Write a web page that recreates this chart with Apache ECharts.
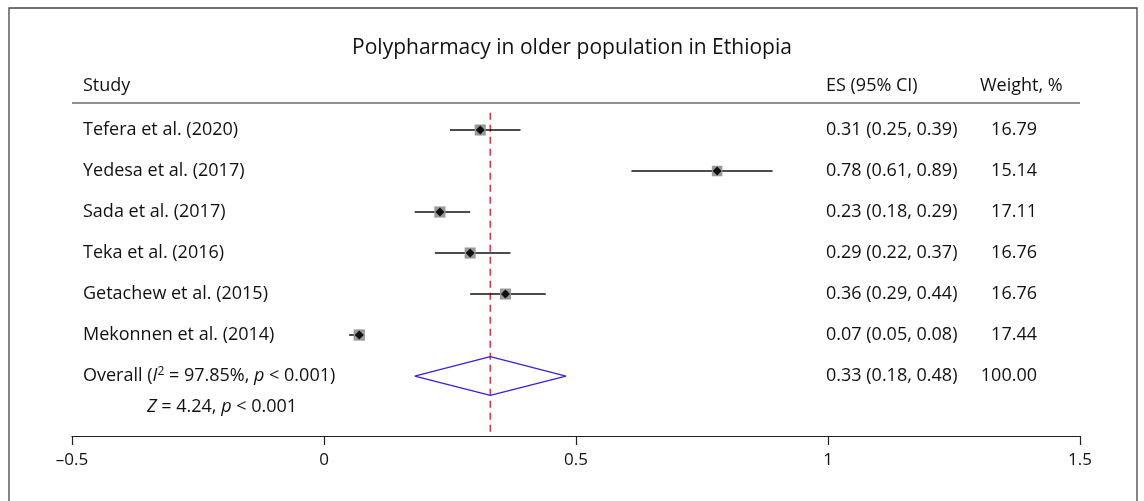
<!DOCTYPE html>
<html>
<head>
<meta charset="utf-8">
<script src="https://cdn.jsdelivr.net/npm/echarts@6/dist/echarts.min.js"></script>
<style>
  html, body { margin: 0; padding: 0; background: #fff; }
  #main { width: 1144px; height: 501px; }
</style>
</head>
<body>
<div id="main"></div>
<script>
  // forest plot data
  const studies = ['Tefera et al. (2020)', 'Yedesa et al. (2017)', 'Sada et al. (2017)',
    'Teka et al. (2016)', 'Getachew et al. (2015)', 'Mekonnen et al. (2014)'];
  const es = [0.31, 0.78, 0.23, 0.29, 0.36, 0.07];
  const lo = [0.25, 0.61, 0.18, 0.22, 0.29, 0.05];
  const hi = [0.39, 0.89, 0.29, 0.37, 0.44, 0.08];
  const weights = [16.79, 15.14, 17.11, 16.76, 16.76, 17.44];
  const overall = [0.33, 0.18, 0.48];   // es, lo, hi
  const overallWeight = '100.00';
  const xTicks = [-0.5, 0, 0.5, 1, 1.5];

  const FONT = '"Open Sans", "Noto Sans", sans-serif';
  const FS = 18;
  const nRows = studies.length;   // overall row index = nRows

  let chart = echarts.init(document.getElementById('main'));

  const rowData = es.map((v, i) => [v, i, lo[i], hi[i], weights[i]]);

  let option = {
    animation: false,
    grid: { left: 72, right: 64, top: 89, bottom: 65 },
    xAxis: {
      type: 'value',
      min: xTicks[0],
      max: xTicks[xTicks.length - 1],
      interval: 0.5,
      axisLine: { show: true, onZero: false, lineStyle: { color: '#222', width: 1.2 } },
      axisTick: { show: true, inside: false, length: 9, lineStyle: { color: '#222', width: 1.2 } },
      axisLabel: {
        margin: 16, fontFamily: FONT, fontSize: 17, color: '#111',
        formatter: v => String(v).replace('-', '\u2013')
      },
      splitLine: { show: false }
    },
    yAxis: {
      type: 'value', inverse: true, min: -1, max: 7.463,
      show: false
    },
    series: [
      {
        // pooled estimate reference line
        type: 'line',
        data: [[overall[0], -0.42], [overall[0], 7.463]],
        symbol: 'none',
        lineStyle: { color: '#d43a4a', width: 1.6, type: [7, 5] },
        z: 1
      },
      {
        type: 'custom',
        data: rowData,
        renderItem: (params, api) => {
          const y = api.value(1);
          const p = api.coord([api.value(0), y]);
          const a = api.coord([api.value(2), y]);
          const b = api.coord([api.value(3), y]);
          const s = Math.sqrt(api.value(4)) * 2.7;
          const d = 4.5;
          return {
            type: 'group',
            children: [
              { type: 'line', shape: { x1: a[0], y1: p[1], x2: b[0], y2: p[1] },
                style: { stroke: '#111', lineWidth: 1.5 } },
              { type: 'rect', shape: { x: p[0] - s / 2, y: p[1] - s / 2, width: s, height: s },
                style: { fill: '#999' } },
              { type: 'polygon', shape: { points: [[p[0] - d, p[1]], [p[0], p[1] - d], [p[0] + d, p[1]], [p[0], p[1] + d]] },
                style: { fill: '#111' } }
            ]
          };
        },
        z: 3
      },
      {
        // overall diamond
        type: 'line',
        data: [[overall[1], nRows], [overall[0], nRows - 0.47], [overall[2], nRows],
               [overall[0], nRows + 0.47], [overall[1], nRows]],
        symbol: 'none',
        lineStyle: { color: '#3f1ed8', width: 1.3 },
        z: 2
      }
    ]
  };
  chart.setOption(option);

  const rowY = i => chart.convertToPixel({ gridIndex: 0 }, [0, i])[1];
  const fmt = v => v.toFixed(2);
  const txt = (x, y, text, extra) => Object.assign({
    type: 'text', x: x, y: y,
    style: Object.assign({ text: text, font: FS + 'px ' + FONT, fill: '#111', verticalAlign: 'middle' }, extra || {})
  });

  const graphics = [
    { type: 'rect', shape: { x: 9, y: 8, width: 1128, height: 520 },
      style: { fill: 'none', stroke: '#444', lineWidth: 1.3 }, z: -1 },
    txt(572, 48, 'Polypharmacy in older population in Ethiopia', { font: '21px ' + FONT, align: 'center' }),
    txt(83, 86, 'Study'),
    txt(826, 86, 'ES (95% CI)'),
    txt(980, 86, 'Weight, %'),
    { type: 'line', shape: { x1: 72, y1: 103, x2: 1080, y2: 103 },
      style: { stroke: '#222', lineWidth: 1.2 } }
  ];

  studies.forEach((name, i) => {
    const y = rowY(i);
    graphics.push(txt(83, y, name));
    graphics.push(txt(826, y, fmt(es[i]) + ' (' + fmt(lo[i]) + ', ' + fmt(hi[i]) + ')'));
    graphics.push(txt(1037, y, fmt(weights[i]), { align: 'right' }));
  });

  const yo = rowY(nRows);
  const rich = {
    i: { fontFamily: FONT, fontSize: FS, fontStyle: 'italic', fill: '#111' },
    sup: { fontFamily: FONT, fontSize: 12, fill: '#111', verticalAlign: 'top', padding: [0, 0, 8, 0] }
  };
  graphics.push({
    type: 'text', x: 83, y: yo,
    style: { text: 'Overall ({i|I}{sup|2} = 97.85%, {i|p} < 0.001)', rich: rich,
      font: FS + 'px ' + FONT, fill: '#111', verticalAlign: 'middle' }
  });
  graphics.push(txt(826, yo, fmt(overall[0]) + ' (' + fmt(overall[1]) + ', ' + fmt(overall[2]) + ')'));
  graphics.push(txt(1037, yo, overallWeight, { align: 'right' }));
  graphics.push({
    type: 'text', x: 147, y: rowY(nRows + 0.76),
    style: { text: '{i|Z} = 4.24, {i|p} < 0.001', rich: rich,
      font: FS + 'px ' + FONT, fill: '#111', verticalAlign: 'middle' }
  });

  chart.setOption({ graphic: graphics });
</script>
</body>
</html>
